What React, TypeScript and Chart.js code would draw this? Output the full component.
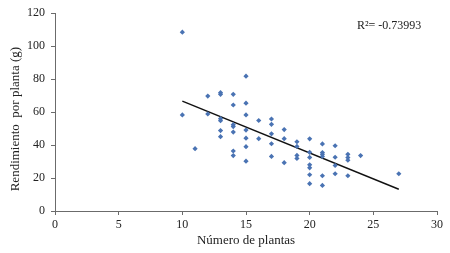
import React, { useEffect, useRef } from 'react';
import { Chart, registerables } from 'chart.js';

Chart.register(...registerables);

const xAxisTitle = 'Número de plantas';
const yAxisTitle = 'Rendimiento  por planta (g)';
const rSquaredText = 'R²= -0.73993';

const plantCounts = [
  10, 10, 11, 12, 12, 13, 13, 13, 13, 13, 13, 14, 14, 14, 14, 14, 14, 14,
  15, 15, 15, 15, 15, 15, 15, 16, 16, 17, 17, 17, 17, 17, 18, 18, 18,
  19, 19, 19, 19, 20, 20, 20, 20, 20, 20, 20, 21, 21, 21, 21, 21, 21,
  22, 22, 22, 22, 23, 23, 23, 23, 24, 27,
];
const yieldPerPlant = [
  108.5, 58.3, 37.8, 69.7, 58.9, 71.8, 70.8, 56.0, 54.8, 48.8, 45.1,
  70.8, 64.3, 52.4, 51.2, 47.9, 36.4, 33.6,
  81.8, 65.4, 58.3, 49.1, 44.2, 39.0, 30.2, 54.9, 43.9,
  55.8, 52.6, 46.8, 40.8, 33.1, 49.4, 43.9, 29.3,
  42.0, 39.2, 33.7, 31.9, 43.8, 35.6, 32.5, 28.0, 26.2, 22.0, 16.6,
  40.7, 35.5, 34.4, 33.1, 21.4, 15.5,
  39.6, 32.6, 27.6, 22.6, 34.4, 32.4, 30.8, 21.4, 33.6, 22.6,
];
const trendX = [10, 27];
const trendY = [66.6, 13.2];

const xMin = 0;
const xMax = 30;
const xStep = 5;
const yMin = 0;
const yMax = 120;
const yStep = 20;

const FONT = '"Liberation Serif", "Times New Roman", serif';
const TEXT = '#222222';
const AXIS = '#6b6b6b';

const textPlugin = {
  id: 'extraText',
  afterDraw(chart: any) {
    const { ctx, chartArea } = chart;
    ctx.save();
    ctx.font = `12px ${FONT}`;
    ctx.fillStyle = TEXT;
    ctx.textAlign = 'left';
    ctx.textBaseline = 'middle';
    ctx.fillText(rSquaredText, chartArea.right - 80, chartArea.top + 13);
    // y-axis title, placed slightly below the plot centre as in the reference
    ctx.font = `13px ${FONT}`;
    ctx.textAlign = 'center';
    ctx.translate(16, (chartArea.top + chartArea.bottom) / 2 + 7);
    ctx.rotate(-Math.PI / 2);
    ctx.fillText(yAxisTitle, 0, 0);
    ctx.restore();
  },
};

export default function App() {
  const ref = useRef<HTMLCanvasElement | null>(null);

  useEffect(() => {
    if (!ref.current) return;
    const points = plantCounts.map((x, i) => ({ x, y: yieldPerPlant[i] }));
    const trend = trendX.map((x, i) => ({ x, y: trendY[i] }));
    const chart = new Chart(ref.current, {
      type: 'scatter',
      data: {
        datasets: [
          {
            label: 'Rendimiento',
            data: points,
            pointStyle: 'rectRot',
            pointRadius: 2.6,
            pointBackgroundColor: '#4a73b3',
            pointBorderColor: '#4a73b3',
            pointBorderWidth: 0,
            showLine: false,
          },
          {
            type: 'line',
            label: 'Tendencia',
            data: trend,
            borderColor: '#111111',
            borderWidth: 1.4,
            pointRadius: 0,
            showLine: true,
            fill: false,
          } as any,
        ],
      },
      options: {
        responsive: false,
        animation: false,
        events: [],
        layout: { padding: { top: 13, right: 13, left: 0, bottom: 0 } },
        plugins: {
          legend: { display: false },
          tooltip: { enabled: false },
        },
        scales: {
          x: {
            type: 'linear',
            min: xMin,
            max: xMax,
            afterFit: (s: any) => { s.height = 42; },
            ticks: {
              stepSize: xStep,
              padding: 3,
              color: TEXT,
              font: { family: FONT, size: 12 },
              maxRotation: 0,
            },
            grid: {
              drawOnChartArea: false,
              drawTicks: true,
              tickLength: 4,
              color: AXIS,
            },
            border: { display: true, color: AXIS, width: 1 },
            title: {
              display: true,
              text: xAxisTitle,
              color: TEXT,
              font: { family: FONT, size: 13 },
              padding: { top: 0, bottom: 5 },
            },
          },
          y: {
            type: 'linear',
            min: yMin,
            max: yMax,
            afterFit: (s: any) => { s.width = 55; },
            ticks: {
              stepSize: yStep,
              padding: 6,
              color: TEXT,
              font: { family: FONT, size: 12 },
            },
            grid: {
              drawOnChartArea: false,
              drawTicks: true,
              tickLength: 4,
              color: AXIS,
            },
            border: { display: true, color: AXIS, width: 1 },
            title: { display: false },
          },
        },
      },
      plugins: [textPlugin],
    });
    return () => chart.destroy();
  }, []);

  return (
    <div style={{ position: 'fixed', left: 0, top: 0, width: 450, height: 253, background: '#fff' }}>
      <canvas ref={ref} width={450} height={253} style={{ display: 'block' }} />
    </div>
  );
}
